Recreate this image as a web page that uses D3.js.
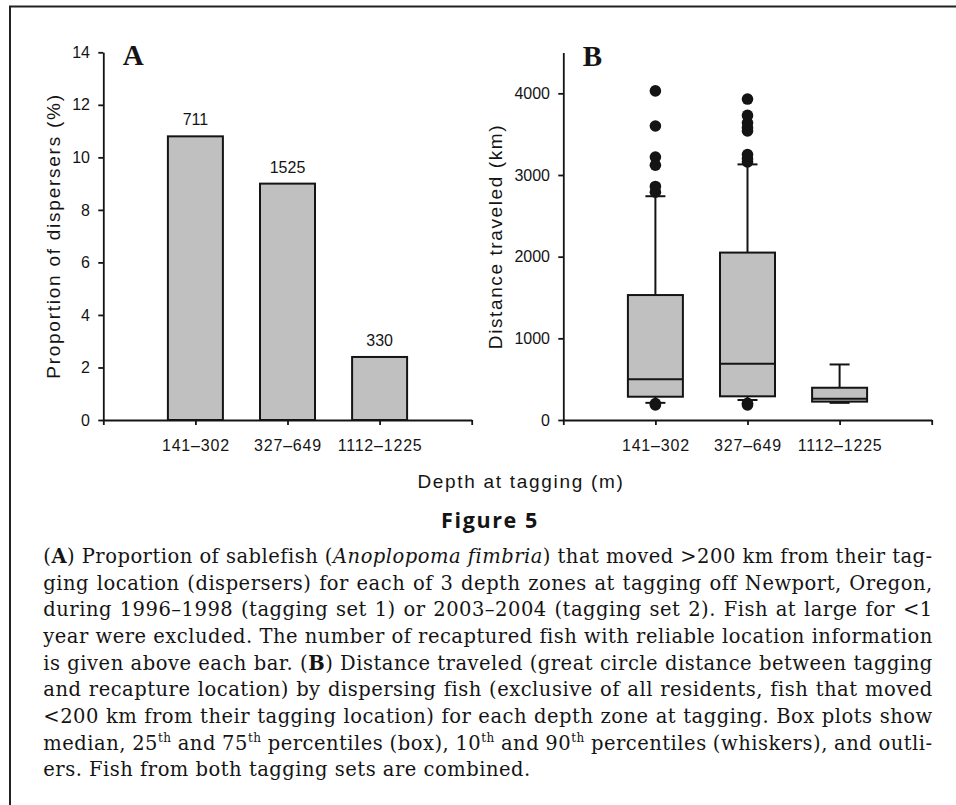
<!DOCTYPE html>
<html><head><meta charset="utf-8">
<script src="https://cdn.jsdelivr.net/npm/d3@7"></script>
<style>
  body { margin: 0; background: #fff; }
  svg { display: block; }
  text { white-space: pre; }
</style>
</head><body>
<svg id="fig" width="956" height="805"></svg>
<script>
// ---- data ----
const depthZones = ["141–302", "327–649", "1112–1225"];
const dispersersPct = [10.8, 9.0, 2.4];
const recapturedCounts = [711, 1525, 330];
const pctTicks = [0, 2, 4, 6, 8, 10, 12, 14];
const distTicks = [0, 1000, 2000, 3000, 4000];
const p10 = [210, 245, 210];
const q1 = [285, 290, 225];
const median = [500, 690, 260];
const q3 = [1530, 2050, 395];
const p90 = [2740, 3130, 680];
const outliersShallow = [4030, 3600, 3220, 3120, 2860, 2790, 200, 185];
const outliersMid = [3930, 3730, 3640, 3580, 3540, 3250, 3200, 3160, 205, 185];
const outliersDeep = [];

const captionLines = [
  [["(", ""], ["A", "b"], [") Proportion of sablefish (", ""], ["Anoplopoma fimbria", "i"], [") that moved >200 km from their tag-", ""]],
  [["ging location (dispersers) for each of 3 depth zones at tagging off Newport, Oregon,", ""]],
  [["during 1996–1998 (tagging set 1) or 2003–2004 (tagging set 2). Fish at large for <1", ""]],
  [["year were excluded. The number of recaptured fish with reliable location information", ""]],
  [["is given above each bar. (", ""], ["B", "b"], [") Distance traveled (great circle distance between tagging", ""]],
  [["and recapture location) by dispersing fish (exclusive of all residents, fish that moved", ""]],
  [["<200 km from their tagging location) for each depth zone at tagging. Box plots show", ""]],
  [["median, 25", ""], ["th", "sup"], [" and 75", ""], ["th", "sup"], [" percentiles (box), 10", ""], ["th", "sup"], [" and 90", ""], ["th", "sup"], [" percentiles (whiskers), and outli-", ""]],
  [["ers. Fish from both tagging sets are combined.", ""]]
];

// ---- layout ----
const svg = d3.select("#fig");
const ink = "#141414";
const sans = "'Liberation Sans', Arial, Helvetica, sans-serif";
const plotBottom = 420;
const boxFill = "#c0c0c0";

// frame (top and left rule)
svg.append("path")
  .attr("d", "M10,805V6.5H956")
  .attr("fill", "none").attr("stroke", "#222").attr("stroke-width", 2);

const outliers = [outliersShallow, outliersMid, outliersDeep];

function styleAxis(g) {
  g.attr("font-family", sans);
  g.select(".domain").attr("stroke", ink).attr("stroke-width", 1.8);
  g.selectAll(".tick line").attr("stroke", ink).attr("stroke-width", 1.8);
  g.selectAll(".tick text").attr("fill", ink).attr("font-family", sans).attr("font-size", 16);
}

function panel(left, top, yDomain, yTicks) {
  const x = d3.scaleLinear().domain([0, 4]).range([left, left + 368.4]);
  const y = d3.scaleLinear().domain(yDomain).range([plotBottom, top]);
  const gx = svg.append("g").attr("transform", `translate(0,${plotBottom})`)
    .call(d3.axisBottom(x).tickValues([0, 1, 2, 3, 4]).tickSize(5).tickSizeOuter(0)
      .tickPadding(14.5).tickFormat(d => depthZones[d - 1] || ""));
  styleAxis(gx);
  gx.selectAll(".tick text").attr("letter-spacing", 0.8);
  const gy = svg.append("g").attr("transform", `translate(${left},0)`)
    .call(d3.axisLeft(y).tickValues(yTicks).tickSize(5).tickSizeOuter(0)
      .tickPadding(8.3).tickFormat(d3.format("d")));
  styleAxis(gy);
  return { x, y };
}

// ---- panel A: bar chart ----
const A = panel(103.3, 52.3, [0, 14], pctTicks);
const barW = 55;
svg.append("g").selectAll("rect").data(dispersersPct).join("rect")
  .attr("x", (d, i) => A.x(i + 1) - barW / 2)
  .attr("y", d => A.y(d))
  .attr("width", barW)
  .attr("height", d => A.y(0) - A.y(d))
  .attr("fill", boxFill).attr("stroke", ink).attr("stroke-width", 2);
svg.append("g").selectAll("text").data(recapturedCounts).join("text")
  .attr("x", (d, i) => A.x(i + 1))
  .attr("y", (d, i) => A.y(dispersersPct[i]) - 11)
  .attr("text-anchor", "middle").attr("font-family", sans).attr("font-size", 16)
  .attr("fill", ink).text(d => d);

svg.append("text").attr("transform", "translate(60,236) rotate(-90)")
  .attr("text-anchor", "middle").attr("font-family", sans).attr("font-size", 19)
  .attr("letter-spacing", 1.75).attr("fill", ink).text("Proportion of dispersers (%)");
svg.append("text").attr("x", 122.7).attr("y", 65)
  .attr("font-family", "'Liberation Serif', 'Times New Roman', serif").attr("font-weight", "bold")
  .attr("font-size", 29).attr("fill", ink).text("A");

// ---- panel B: box plots ----
const B = panel(563.3, 52.5, [0, 4500], distTicks);
const boxes = svg.append("g");
depthZones.forEach((z, i) => {
  const cx = B.x(i + 1);
  const g = boxes.append("g");
  g.append("line").attr("x1", cx).attr("x2", cx).attr("y1", B.y(p90[i])).attr("y2", B.y(q3[i]));
  g.append("line").attr("x1", cx).attr("x2", cx).attr("y1", B.y(p10[i])).attr("y2", B.y(q1[i]));
  g.append("rect").attr("x", cx - barW / 2).attr("width", barW)
    .attr("y", B.y(q3[i])).attr("height", B.y(q1[i]) - B.y(q3[i])).attr("fill", boxFill);
  g.append("line").attr("x1", cx - barW / 2).attr("x2", cx + barW / 2)
    .attr("y1", B.y(median[i])).attr("y2", B.y(median[i]));
  [p90[i], p10[i]].forEach(v => g.append("line")
    .attr("x1", cx - 10).attr("x2", cx + 10).attr("y1", B.y(v)).attr("y2", B.y(v)));
  g.selectAll("line,rect").attr("stroke", ink).attr("stroke-width", 2);
  g.selectAll("circle").data(outliers[i]).join("circle")
    .attr("cx", cx).attr("cy", d => B.y(d)).attr("r", 5.8).attr("fill", ink);
});

svg.append("text").attr("transform", "translate(501.5,236.5) rotate(-90)")
  .attr("text-anchor", "middle").attr("font-family", sans).attr("font-size", 19)
  .attr("letter-spacing", 1.6).attr("fill", ink).text("Distance traveled (km)");
svg.append("text").attr("x", 582.7).attr("y", 66)
  .attr("font-family", "'Liberation Serif', 'Times New Roman', serif").attr("font-weight", "bold")
  .attr("font-size", 29).attr("fill", ink).text("B");

// shared x title
svg.append("text").attr("x", 521).attr("y", 487.5).attr("text-anchor", "middle")
  .attr("font-family", sans).attr("font-size", 19).attr("letter-spacing", 1.7)
  .attr("fill", ink).text("Depth at tagging (m)");

// ---- figure title and caption ----
svg.append("text").attr("x", 490).attr("y", 528).attr("text-anchor", "middle")
  .attr("font-family", "'Open Sans', 'Noto Sans', sans-serif").attr("font-weight", "bold")
  .attr("font-size", 21.5).attr("letter-spacing", 1.6).attr("fill", ink).text("Figure 5");

const capLeft = 43.3, capRight = 932.7, capTop = 563, capStep = 26.67;
const serif = "'DejaVu Serif', 'Liberation Serif', serif";
captionLines.forEach((segs, li) => {
  const t = svg.append("text").attr("x", capLeft).attr("y", capTop + li * capStep)
    .attr("font-family", serif).attr("font-size", 19.5).attr("letter-spacing", 0.5)
    .attr("fill", ink);
  let raised = false;
  segs.forEach(([str, style]) => {
    const ts = t.append("tspan").text(str);
    if (style === "b") ts.attr("font-weight", "bold");
    if (style === "i") ts.attr("font-style", "italic");
    if (style === "sup") { ts.attr("font-size", 12).attr("dy", -7.5); raised = true; }
    else if (raised) { ts.attr("dy", 7.5); raised = false; }
  });
  if (li < captionLines.length - 1) {
    const w = t.node().getComputedTextLength();
    const spaces = segs.map(s => s[0]).join("").split(" ").length - 1;
    t.attr("word-spacing", (capRight - capLeft - w) / spaces);
  }
});
</script>
</body></html>
